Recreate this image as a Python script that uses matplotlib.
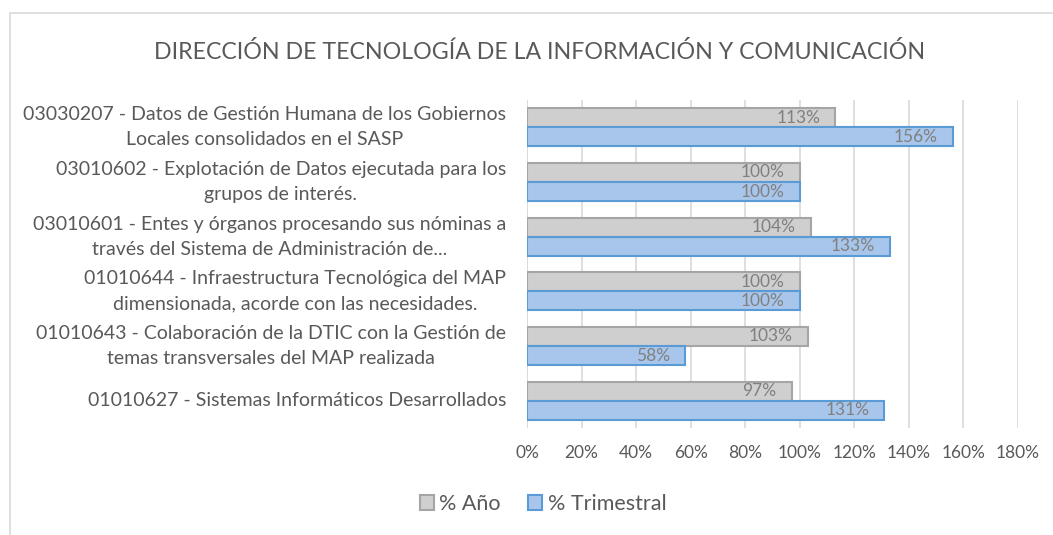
import matplotlib
matplotlib.use("Agg")
import matplotlib.pyplot as plt
from matplotlib.patches import Rectangle
import numpy as np

# datos del gráfico
categorias = [
    "03030207 - Datos de Gestión Humana de los Gobiernos\nLocales consolidados en el SASP",
    "03010602 - Explotación de Datos ejecutada para los\ngrupos de interés.",
    "03010601 - Entes y órganos procesando sus nóminas a\ntravés del Sistema de Administración de...",
    "01010644 - Infraestructura Tecnológica del MAP\ndimensionada, acorde con las necesidades.",
    "01010643 - Colaboración de la DTIC con la Gestión de\ntemas transversales del MAP realizada",
    "01010627 - Sistemas Informáticos Desarrollados",
]
pct_anio = [113, 100, 104, 100, 103, 97]
pct_trimestral = [156, 100, 133, 100, 58, 131]
xticks = list(range(0, 181, 20))

plt.rcParams["font.family"] = ["Lato", "DejaVu Sans"]
texto = "#595959"

fig = plt.figure(figsize=(10.53, 5.35), dpi=100)
ax_w = (1018 - 527) / 1053
ax = fig.add_axes([527 / 1053, 1 - 428 / 535, ax_w, (428 - 100) / 535])

y = np.arange(len(categorias))
h = 0.35
b1 = ax.barh(y - h / 2, pct_anio, height=h, color="#cfcfcf", edgecolor="#a5a5a5", linewidth=1.5, label="% Año")
b2 = ax.barh(y + h / 2, pct_trimestral, height=h, color="#a8c6eb", edgecolor="#5b9bd5", linewidth=1.5, label="% Trimestral")

# etiquetas de datos dentro del extremo
for bars, vals in ((b1, pct_anio), (b2, pct_trimestral)):
    for r, v in zip(bars, vals):
        ax.text(v - 5.5, r.get_y() + r.get_height() / 2, f"{v}%", ha="right", va="center",
                fontsize=12.5, color="#808080")

ax.set_ylim(len(categorias) - 0.5, -0.5)
ax.set_xlim(0, 180)
ax.set_xticks(xticks)
ax.set_xticklabels([f"{t}%" for t in xticks], fontsize=12.5, color=texto)
ax.set_yticks(y)
ax.set_yticklabels([])

# etiquetas de categoría: bloque a la derecha, líneas centradas
for yi, lab in zip(y, categorias):
    ax.text(-21 / 1053 / ax_w, yi, lab, transform=ax.get_yaxis_transform(),
            ha="right", va="center", multialignment="center",
            fontsize=14, color=texto, linespacing=1.55)

ax.tick_params(axis="both", length=0)
ax.tick_params(axis="x", pad=12)
ax.grid(axis="x", color="#d9d9d9", linewidth=1.2)
ax.set_axisbelow(True)
for s in ax.spines.values():
    s.set_visible(False)
ax.axvline(0, color="#d9d9d9", linewidth=1.2, zorder=0)

fig.text(540 / 1053, 1 - 52 / 535, "DIRECCIÓN DE TECNOLOGÍA DE LA INFORMACIÓN Y COMUNICACIÓN",
         ha="center", va="center", fontsize=16.7, color=texto)

fig.legend(handles=[b1, b2], loc="center", bbox_to_anchor=(543 / 1053, 1 - 504 / 535), ncol=2,
           frameon=False, fontsize=15.5, handlelength=0.65, handleheight=0.65,
           handletextpad=0.25, columnspacing=1.3, labelcolor=texto)

# borde del área del gráfico
fig.patches.append(Rectangle((10 / 1053, -0.05), 1.2, 1.05 - 13 / 535, transform=fig.transFigure,
                             fill=False, edgecolor="#d9d9d9", linewidth=1.2))

fig.savefig("out.png", dpi=100)
